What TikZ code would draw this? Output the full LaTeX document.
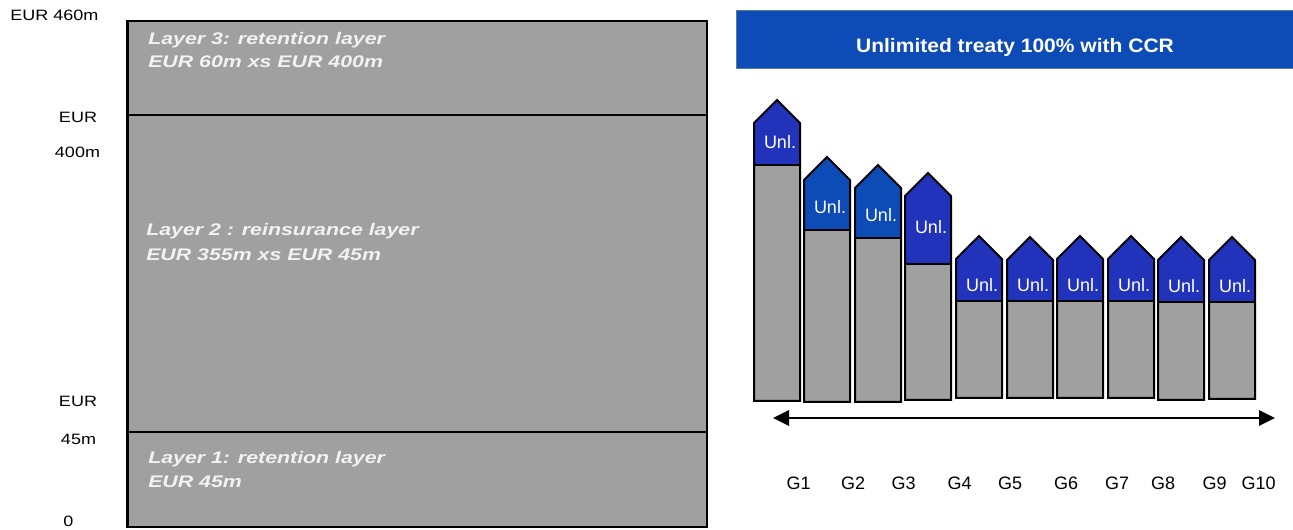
\documentclass[tikz,border=0pt]{standalone}
\usepackage{fontspec}
\setmainfont{Liberation Sans}
\newfontfamily\axisfont{Liberation Sans}[FakeStretch=1.2]
\newfontfamily\layerfont{Liberation Sans}[FakeStretch=1.27]
\newfontfamily\headfont{Liberation Sans}[FakeStretch=1.08]
\usetikzlibrary{arrows.meta}

\definecolor{layergray}{HTML}{A0A0A0}
\definecolor{barblue}{HTML}{2233BB}
\definecolor{deepblue}{HTML}{0D4BB6}
\definecolor{headedge}{HTML}{5A7AAA}
\definecolor{paletext}{HTML}{F2F2F2}

\tikzset{
  layerbox/.style={fill=layergray, draw=black, line width=1.5pt},
  axislabel/.style={font=\axisfont\fontsize{11.25}{13}\selectfont, anchor=base, inner sep=0pt, text=black},
  layertext/.style={font=\layerfont\bfseries\itshape\fontsize{12.6}{15}\selectfont, text=paletext, anchor=base west, inner sep=0pt},
  headbar/.style={fill=deepblue, draw=headedge, line width=0.6pt},
  headtext/.style={font=\headfont\bfseries\fontsize{14.6}{17}\selectfont, text=white, anchor=base, inner sep=0pt},
  barline/.style={draw=black, line width=1.5pt, line join=miter},
  unl/.style={font=\fontsize{13.5}{15}\selectfont, text=white, anchor=base, inner sep=0pt},
  glabel/.style={font=\fontsize{13.5}{15}\selectfont, text=black, anchor=base, inner sep=0pt},
  spread/.style={line width=1.5pt, {Triangle[length=12pt,width=11.5pt]}-{Triangle[length=12pt,width=11.5pt]}}
}

\begin{document}
\begin{tikzpicture}[x=0.75pt,y=-0.75pt]
\useasboundingbox (0,0) rectangle (1293,530);

% ---- programme layers ----
\draw[layerbox] (127.5,21) rectangle (706.5,115);
\draw[layerbox] (127.5,115) rectangle (706.5,432.5);
\draw[layerbox] (127.5,432.5) rectangle (706.5,527.5);
\draw[line width=2.3pt] (127.5,20.2) -- (127.5,528.3);

\node[layertext] (l3a) at (148,45) {Layer 3: retention layer};
\node[layertext] (l3b) at (148,68) {EUR 60m xs EUR 400m};
\node[layertext] (l2a) at (146,236) {Layer 2 : reinsurance layer};
\node[layertext] (l2b) at (146,261) {EUR 355m xs EUR 45m};
\node[layertext] (l1a) at (148,464) {Layer 1: retention layer};
\node[layertext] (l1b) at (148,488) {EUR 45m};

% ---- amount axis ----
\node[axislabel, anchor=base west] (a460) at (10,20.7) {EUR 460m};
\node[axislabel] (a400a) at (78,123) {EUR};
\node[axislabel] (a400b) at (77.5,158) {400m};
\node[axislabel] (a45a) at (78,407) {EUR};
\node[axislabel] (a45b) at (78.5,445) {45m};
\node[axislabel] (a0) at (68.5,527) {0};

% ---- treaty header ----
\draw[headbar] (736,10) rectangle (1296,68.3);
\node[headtext] (head) at (1015,53) {Unlimited treaty 100\% with CCR};

% ---- groups: retained part (grey) under unlimited cover (blue) ----
\foreach \i/\xo/\ap/\bd/\bt/\col/\tb in {
  1/754/100/165/401/barblue/149,
  2/804/157/230/402/deepblue/214,
  3/855/165/238/402/deepblue/222,
  4/905/173/264/400/barblue/234,
  5/956/236/301/398/barblue/292,
  6/1007/237/301/398/barblue/292,
  7/1057/236/301/398/barblue/292,
  8/1108/236/301/398/barblue/292,
  9/1158/237/302/400/barblue/293,
  10/1209/237/302/399/barblue/293}{
  \pgfmathsetmacro\xc{\xo+23}
  \pgfmathsetmacro\xr{\xo+46}
  \pgfmathsetmacro\sh{\ap+23}
  \fill[\col] (\xo,\sh) -- (\xc,\ap) -- (\xr,\sh) -- (\xr,\bd) -- (\xo,\bd) -- cycle;
  \fill[layergray] (\xo,\bd) rectangle (\xr,\bt);
  \draw[barline] (\xo,\bt) -- (\xo,\sh) -- (\xc,\ap) -- (\xr,\sh) -- (\xr,\bt) -- cycle;
  \draw[barline] (\xo,\bd) -- (\xr,\bd);
  \node[unl] (unl\i) at (\xo+26,\tb) {Unl.};
}

% ---- spread of groups ----
\coordinate (spreadL) at (773,418);
\coordinate (spreadR) at (1275,418);
\draw[spread] (spreadL) -- (spreadR);

\foreach \g/\gx in {1/798.5,2/853,3/903.5,4/959.5,5/1010,6/1066,7/1117,8/1163,9/1214.5,10/1258.5}
  \node[glabel] (g\g) at (\gx,490) {G\g};
\end{tikzpicture}
\end{document}
